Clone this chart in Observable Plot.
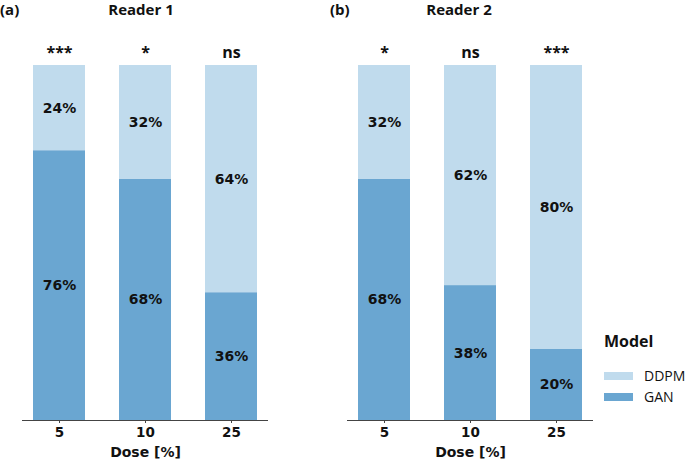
<!DOCTYPE html>
<html>
<head>
<meta charset="utf-8">
<script src="https://cdn.jsdelivr.net/npm/d3@7"></script>
<script src="https://cdn.jsdelivr.net/npm/@observablehq/plot@0.6"></script>
<style>
  html, body { margin: 0; padding: 0; background: #fff; }
  #wrap { position: relative; width: 685px; height: 459px; overflow: hidden; }
  .panel { position: absolute; top: 0; }
  .title { position: absolute; font-family: "Open Sans", sans-serif; font-weight: 700; font-size: 15px; color: #111; line-height: 1; white-space: nowrap; }
  .legend { position: absolute; left: 604px; top: 333px; font-family: "Open Sans", sans-serif; color: #111; }
  .legend .head { font-weight: 700; font-size: 16px; line-height: 1; margin-bottom: 16px; }
  .legend .row { display: flex; align-items: center; height: 21px; font-size: 14px; white-space: nowrap; }
  .legend .sw { width: 29px; height: 8px; margin-right: 11px; }
</style>
</head>
<body>
<div id="wrap"></div>
<script>
const doses = ["5", "10", "25"];
const models = ["DDPM", "GAN"];
const modelColors = ["#c0dbed", "#6aa6d1"];
const reader1GAN = [76, 68, 36];
const reader1DDPM = [24, 32, 64];
const reader1Sig = ["***", "*", "ns"];
const reader2GAN = [68, 38, 20];
const reader2DDPM = [32, 62, 80];
const reader2Sig = ["*", "ns", "***"];

function makeRows(gan, ddpm) {
  const rows = [];
  doses.forEach((d, i) => {
    rows.push({dose: d, model: "GAN", value: gan[i]});
    rows.push({dose: d, model: "DDPM", value: ddpm[i]});
  });
  return rows;
}

function panel(gan, ddpm, sig) {
  const rows = makeRows(gan, ddpm);
  const sigRows = doses.map((d, i) => ({dose: d, label: sig[i], top: gan[i] + ddpm[i]}));
  const stackOpts = {x: "dose", y: "value", z: "model", order: ["GAN", "DDPM"]};
  return Plot.plot({
    width: 300,
    height: 459,
    marginLeft: 22,
    marginRight: 32,
    marginTop: 65,
    marginBottom: 39,
    style: {fontFamily: "DejaVu Sans, sans-serif", fontWeight: "bold", fontSize: "13px", color: "#111", background: "transparent"},
    x: {domain: doses, paddingInner: 0.4, paddingOuter: 0.128, label: null},
    y: {domain: [0, 100], axis: null},
    color: {domain: models, range: modelColors},
    marks: [
      Plot.barY(rows, Plot.stackY({...stackOpts, fill: "model"})),
      Plot.text(rows, Plot.stackY({...stackOpts, text: d => d.value + "%", fill: "#111", fontSize: 14, fontWeight: "bold"})),
      Plot.text(sigRows, {x: "dose", y: "top", text: "label", lineAnchor: "bottom", dy: -8, fontFamily: "Open Sans, sans-serif", fontSize: 16, fontWeight: "bold", fill: "#111"}),
      Plot.ruleY([0], {stroke: "#444", strokeWidth: 1.2}),
      Plot.axisX({tickSize: 3, tickPadding: 4, stroke: "#444", fontSize: 13.5, fontWeight: "bold", label: "Dose [%]", labelAnchor: "center", labelArrow: "none", labelOffset: 36})
    ]
  });
}

const wrap = document.getElementById("wrap");
const p1 = panel(reader1GAN, reader1DDPM, reader1Sig);
p1.classList.add("panel"); p1.style.left = "0px";
wrap.appendChild(p1);
const p2 = panel(reader2GAN, reader2DDPM, reader2Sig);
p2.classList.add("panel"); p2.style.left = "325px";
wrap.appendChild(p2);

// axis label font size bump
document.querySelectorAll("svg [aria-label='x-axis label'] text, svg g[aria-label='x-axis label']").forEach(el => el.setAttribute("font-size", "14"));

function addText(txt, left, top, center) {
  const el = document.createElement("div");
  el.className = "title";
  el.textContent = txt;
  el.style.top = top + "px";
  el.style.left = left + "px";
  if (center) el.style.transform = "translateX(-50%)";
  wrap.appendChild(el);
}
addText("(a)", 0, 2, false);
addText("Reader 1", 141, 2, true);
addText("(b)", 330, 2, false);
addText("Reader 2", 459, 2, true);

const leg = document.createElement("div");
leg.className = "legend";
const head = document.createElement("div");
head.className = "head"; head.textContent = "Model";
leg.appendChild(head);
models.forEach((m, i) => {
  const row = document.createElement("div");
  row.className = "row";
  const sw = document.createElement("div");
  sw.className = "sw"; sw.style.background = modelColors[i];
  const t = document.createElement("span");
  t.textContent = m;
  row.appendChild(sw); row.appendChild(t);
  leg.appendChild(row);
});
wrap.appendChild(leg);
</script>
</body>
</html>
